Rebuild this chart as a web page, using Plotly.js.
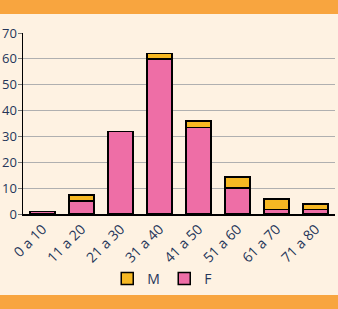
<!DOCTYPE html>
<html>
<head>
<meta charset="utf-8">
<script src="https://cdn.plot.ly/plotly-3.0.1.min.js"></script>
<style>html,body{margin:0;padding:0;background:#FEF2E2;}#chart{width:338px;height:309px;}</style>
</head>
<body>
<div id="chart"></div>
<script>
const categories = ["0 a 10","11 a 20","21 a 30","31 a 40","41 a 50","51 a 60","61 a 70","71 a 80"];
const valuesF = [1, 5, 32, 60, 33.5, 10, 1.8, 1.8];
const valuesM = [null, 2.4, null, 2, 2.4, 4.3, 4, 2.1];
const yTicks = [0,10,20,30,40,50,60,70];

const textColor = "#25365a";
const traces = [
  {type:"bar", name:"F", x:categories, y:valuesF,
   marker:{color:"#EE6EA6", line:{color:"#000", width:1.5}}},
  {type:"bar", name:"M", x:categories, y:valuesM,
   marker:{color:"#F6B823", line:{color:"#000", width:1.5}}}
];
const plotTop = 33, plotBottom = 214, H = 309;
const ph = plotBottom - plotTop;
const py = v => (plotBottom - v) / ph;
const layout = {
  width:338, height:309,
  margin:{l:23, r:3, t:plotTop, b:H-plotBottom},
  paper_bgcolor:"#FEF2E2", plot_bgcolor:"#FEF2E2",
  barmode:"stack", bargap:0.36,
  font:{family:"Open Sans, sans-serif", size:14, color:textColor},
  xaxis:{type:"category", tickangle:-45, showline:true, linecolor:"#000", linewidth:1.5,
         ticks:"", tickfont:{size:14, color:textColor}, fixedrange:true},
  yaxis:{range:[0,70], tickvals:yTicks, showline:true, linecolor:"#000", linewidth:1.5,
         gridcolor:"#b0b0b0", gridwidth:1, ticks:"outside", ticklen:4, tickcolor:"#777",
         ticklabelstandoff:-2,
         tickfont:{size:13, color:textColor}, zeroline:false, fixedrange:true},
  showlegend:true,
  legend:{orientation:"h", traceorder:"reversed", x:0.27, xanchor:"left", y:py(279), yanchor:"middle",
          bgcolor:"rgba(0,0,0,0)", font:{size:14, color:textColor}, entrywidth:12, itemwidth:30},
  shapes:[
    {type:"rect", xref:"paper", yref:"paper", x0:-0.2, x1:1.2, y0:py(14), y1:py(-2),
     fillcolor:"#F8A53F", line:{width:0}, layer:"below"},
    {type:"rect", xref:"paper", yref:"paper", x0:-0.2, x1:1.2, y0:py(311), y1:py(295),
     fillcolor:"#F8A53F", line:{width:0}, layer:"below"}
  ]
};
Plotly.newPlot("chart", traces, layout, {displayModeBar:false, staticPlot:true});
</script>
</body>
</html>
